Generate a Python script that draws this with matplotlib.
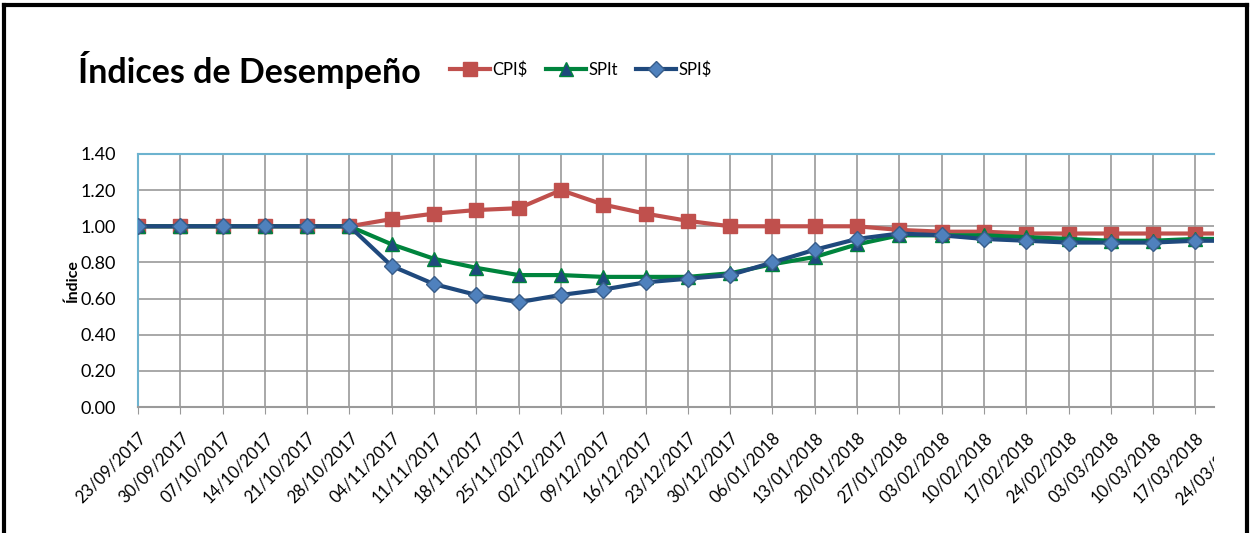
import matplotlib.pyplot as plt
from matplotlib.lines import Line2D
from matplotlib.transforms import Bbox, TransformedBbox

fechas = ['23/09/2017', '30/09/2017', '07/10/2017', '14/10/2017', '21/10/2017',
          '28/10/2017', '04/11/2017', '11/11/2017', '18/11/2017', '25/11/2017',
          '02/12/2017', '09/12/2017', '16/12/2017', '23/12/2017', '30/12/2017',
          '06/01/2018', '13/01/2018', '20/01/2018', '27/01/2018', '03/02/2018',
          '10/02/2018', '17/02/2018', '24/02/2018', '03/03/2018', '10/03/2018',
          '17/03/2018', '24/03/2018']
cpi = [1.00, 1.00, 1.00, 1.00, 1.00, 1.00, 1.04, 1.07, 1.09, 1.10, 1.20, 1.12, 1.07,
       1.03, 1.00, 1.00, 1.00, 1.00, 0.98, 0.97, 0.97, 0.96, 0.96, 0.96, 0.96, 0.96, 0.96]
spit = [1.00, 1.00, 1.00, 1.00, 1.00, 1.00, 0.90, 0.82, 0.77, 0.73, 0.73, 0.72, 0.72,
        0.72, 0.74, 0.79, 0.83, 0.90, 0.95, 0.95, 0.95, 0.94, 0.93, 0.92, 0.92, 0.93, 0.93]
spi = [1.00, 1.00, 1.00, 1.00, 1.00, 1.00, 0.78, 0.68, 0.62, 0.58, 0.62, 0.65, 0.69,
       0.71, 0.73, 0.80, 0.87, 0.93, 0.96, 0.95, 0.93, 0.92, 0.91, 0.91, 0.91, 0.92, 0.92]

plt.rcParams['font.family'] = ['Lato', 'DejaVu Sans']

W, H = 1252, 533
fig = plt.figure(figsize=(W / 100, H / 100), dpi=100)
ax = fig.add_axes([138 / W, 1 - 407 / H, (1214 - 138) / W, (407 - 154) / H])

x = list(range(len(fechas)))
ax.plot(x, cpi, color='#c0504d', lw=3, marker='s', ms=9.5, mfc='#c0504d', mec='#c0504d',
        label='CPI$', zorder=3)
ax.plot(x, spit, color='#00843d', lw=3, marker='^', ms=10.5, mfc='#1f497d', mec='#00843d',
        label='SPIt', zorder=4)
ax.plot(x, spi, color='#1f497d', lw=3, marker='D', ms=8, mfc='#4f81bd', mec='#385d8a',
        label='SPI$', zorder=5)

ax.set_ylim(0, 1.4)
ax.set_yticks([0, 0.2, 0.4, 0.6, 0.8, 1.0, 1.2, 1.4])
ax.set_yticklabels(['%.2f' % v for v in ax.get_yticks()], fontsize=13)
ax.set_xlim(0, 25.44)
ax.set_xticks(x[:-1])
ax.set_xticklabels(fechas[:-1], rotation=45, ha='right', rotation_mode='anchor', fontsize=12)
ax.tick_params(axis='x', length=5, color='#999999', pad=11)
ax.tick_params(axis='y', length=0, pad=16)
ax.grid(True, color='#9a9a9a', lw=1.2, zorder=0)
ax.set_axisbelow(True)
ax.spines['right'].set_visible(False)
for s, c in [('left', '#6db3cf'), ('top', '#6db3cf'), ('bottom', '#9a9a9a')]:
    ax.spines[s].set_color(c)
    ax.spines[s].set_linewidth(1.5)
ax.set_ylabel('Índice', fontsize=11.5, fontweight='bold', labelpad=0)

# last label, cut off at the chart edge
t = ax.text(len(fechas) - 1, -0.095, fechas[-1], rotation=45, ha='right', va='top',
            rotation_mode='anchor', fontsize=12, transform=ax.get_xaxis_transform())
t.set_clip_on(True)
t.set_clip_box(TransformedBbox(Bbox([[0, 0], [1214 / W, 1]]), fig.transFigure))

fig.text(78 / W, 1 - 70 / H, 'Índices de Desempeño', fontsize=24.5, fontweight='bold',
         va='center', ha='left')
fig.legend(loc='center left', bbox_to_anchor=(450 / W, 1 - 70 / H), ncol=3, frameon=False,
           fontsize=12, handlelength=2.4, handletextpad=0.15, columnspacing=1.1,
           borderpad=0, borderaxespad=0)

# black frame
for (x0, y0, x1, y1) in [(4, 5, 1247, 5), (4, 5, 4, H), (1247, 5, 1247, H)]:
    fig.add_artist(Line2D([x0 / W, x1 / W], [1 - y0 / H, 1 - y1 / H], color='black',
                          lw=3, transform=fig.transFigure, solid_capstyle='projecting'))

plt.savefig('out.png', dpi=100)
